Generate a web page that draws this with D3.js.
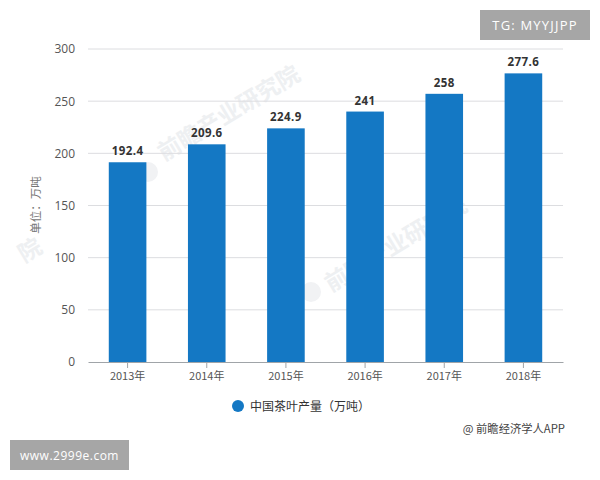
<!DOCTYPE html>
<html>
<head>
<meta charset="utf-8">
<script src="https://cdn.jsdelivr.net/npm/d3@7/dist/d3.min.js"></script>
<style>
html, body { margin: 0; padding: 0; background: #fff; }
svg { display: block; }
text { font-family: "Noto Sans CJK SC", "Open Sans", sans-serif; }
</style>
</head>
<body>
<svg id="chart" width="600" height="480"></svg>
<script>
const years = ["2013年", "2014年", "2015年", "2016年", "2017年", "2018年"];
const output = [192.4, 209.6, 224.9, 241, 258, 277.6];
const yTicks = [0, 50, 100, 150, 200, 250, 300];
const seriesName = "中国茶叶产量（万吨）";
const unitLabel = "单位：万吨";
const sourceLabel = "@ 前瞻经济学人APP";
const tagTop = "TG: MYYJJPP";
const tagBottom = "www.2999e.com";
const watermarkText = "前瞻产业研究院";

const svg = d3.select("#chart");

const plotLeft = 88, plotRight = 563, plotTop = 49, plotBottom = 362;
const barNudge = 1; // bars in the picture sit a pixel under their gridline position
const x = d3.scaleBand().domain(years).range([plotLeft, plotRight]).paddingInner(0.525).paddingOuter(0.2625);
const y = d3.scaleLinear().domain([0, 300]).range([plotBottom, plotTop]);

// watermarks go under everything
const marks = [
    { x: 233, y: 120, text: watermarkText },
    { x: 400, y: 251, text: watermarkText },
    { x: 34, y: 257, text: watermarkText.slice(-1) }
];
const logos = [[148, 172], [311, 292]];
svg.append("g").selectAll("text").data(marks).join("text")
    .attr("transform", d => `translate(${d.x},${d.y}) rotate(-31)`)
    .attr("text-anchor", "middle")
    .attr("font-size", 23)
    .attr("font-weight", 700)
    .attr("fill", "#eef0f2")
    .text(d => d.text);
svg.append("g").selectAll("circle").data(logos).join("circle")
    .attr("cx", d => d[0]).attr("cy", d => d[1])
    .attr("r", 10)
    .attr("fill", "#f1f2f4");

// gridlines
svg.append("g").selectAll("line").data(yTicks.filter(d => d > 0)).join("line")
    .attr("x1", plotLeft).attr("x2", plotRight)
    .attr("y1", d => y(d)).attr("y2", d => y(d))
    .attr("stroke", "#dcdde0").attr("stroke-width", 1);

// y axis
const yAxis = svg.append("g")
    .attr("transform", `translate(${plotLeft},0)`)
    .call(d3.axisLeft(y).tickValues(yTicks).tickSize(0).tickPadding(13));
yAxis.select(".domain").remove();
yAxis.selectAll("text").attr("font-size", 12).attr("fill", "#555")
    .style("font-family", '"Open Sans", sans-serif');

// bars
svg.append("g").selectAll("rect").data(output).join("rect")
    .attr("x", (d, i) => x(years[i]))
    .attr("y", d => y(d) + barNudge)
    .attr("width", x.bandwidth())
    .attr("height", d => plotBottom - y(d) - barNudge)
    .attr("fill", "#1478c4");

// x axis
const xAxis = svg.append("g")
    .attr("transform", `translate(0,${plotBottom})`)
    .call(d3.axisBottom(x).tickSize(6).tickPadding(4).tickSizeOuter(0));
xAxis.select(".domain").attr("stroke", "#a0a4a8");
xAxis.selectAll("line").attr("stroke", "#a0a4a8");
xAxis.selectAll("text").attr("font-size", 11).attr("fill", "#555");

// value labels
svg.append("g").selectAll("text").data(output).join("text")
    .attr("x", (d, i) => x(years[i]) + x.bandwidth() / 2)
    .attr("y", d => y(d) + barNudge - 7)
    .attr("text-anchor", "middle")
    .attr("font-size", 11.5)
    .attr("font-weight", 700)
    .attr("letter-spacing", 0.4)
    .attr("fill", "#333")
    .style("font-family", '"Open Sans", sans-serif')
    .text(d => d);

// unit label
svg.append("text")
    .attr("transform", "translate(40,205) rotate(-90)")
    .attr("text-anchor", "middle")
    .attr("font-size", 11.5)
    .attr("fill", "#777")
    .text(unitLabel);

// legend
svg.append("circle").attr("cx", 238).attr("cy", 406).attr("r", 6).attr("fill", "#1478c4");
svg.append("text")
    .attr("x", 250).attr("y", 411)
    .attr("font-size", 12)
    .attr("fill", "#333")
    .text(seriesName);

// source
svg.append("text")
    .attr("x", 565).attr("y", 433)
    .attr("text-anchor", "end")
    .attr("font-size", 11.3)
    .attr("fill", "#444")
    .text(sourceLabel);

// grey tags
svg.append("rect").attr("x", 480).attr("y", 10).attr("width", 110).attr("height", 30).attr("fill", "#a6a6a6");
svg.append("text")
    .attr("x", 535).attr("y", 30)
    .attr("text-anchor", "middle")
    .attr("font-size", 13)
    .attr("letter-spacing", 1.2)
    .attr("fill", "#fff")
    .style("font-family", '"Open Sans", sans-serif')
    .text(tagTop);
svg.append("rect").attr("x", 10).attr("y", 440).attr("width", 119).attr("height", 30).attr("fill", "#a6a6a6");
svg.append("text")
    .attr("x", 69.5).attr("y", 460)
    .attr("text-anchor", "middle")
    .attr("font-size", 12)
    .attr("letter-spacing", 0.5)
    .attr("fill", "#fff")
    .style("font-family", '"Open Sans", sans-serif')
    .text(tagBottom);
</script>
</body>
</html>
